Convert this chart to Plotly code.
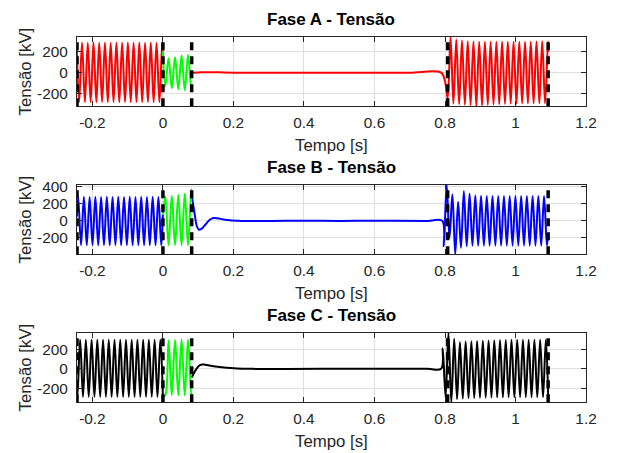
import plotly.graph_objects as go

# ---------------- data ----------------
# time [s], voltage [kV]
H_PRE = 0.008125   # half period, pre-fault / re-energized
H_FLT = 0.0092     # half period during fault (green)

# Pre-fault (t < 0): start point, first extreme time, extremes, end point
A_pre_start = (-0.244, 230)
A_pre_t0 = -0.2376
A_pre_ext = [-285, 291, -286, 290, -285, 291, -286, 290, -285, 291,
             -286, 290, -285, 291, -286, 290, -285, 291, -286, 290,
             -285, 291, -286, 290, -285, 291, -286, 290, -285, 291]
A_pre_end = (0.0, 205)

B_pre_start = (-0.244, 50)
B_pre_t0 = -0.2404
B_pre_ext = [281, -285, 282, -285, 281, -285, 282, -285, 281, -285,
             282, -285, 281, -285, 282, -285, 281, -285, 282, -285,
             281, -285, 282, -285, 281, -285, 282, -285, 281, -285]
B_pre_end = (0.0, 70)

C_pre_start = (-0.244, -280)
C_pre_t0 = -0.2430
C_pre_ext = [-287, 297, -287, 297, -287, 297, -287, 297, -287, 297,
             -287, 297, -287, 297, -287, 297, -287, 297, -287, 297,
             -287, 297, -287, 297, -287, 297, -287, 297, -287, 297]
C_pre_end = (0.0, -285)

# Fault period (green), 0 .. 0.0815 s
FLT_t0 = 0.0067
A_flt_ext = [-130, 140, -150, 150, -160, 165, -170, 170, -165]
A_flt_end = (0.0815, -140)
B_flt_ext = [285, -285, 295, -285, 305, -285, 320, -285, 370]
B_flt_end = (0.0815, 330)
C_flt_ext = [-270, 290, -270, 297, -270, 300, -270, 300, -270]
C_flt_end = (0.0815, -250)

# Post-fault transient (isolated line)
A_tr_t = [0.0815, 0.10, 0.13, 0.16, 0.20, 0.30, 0.45, 0.60, 0.70, 0.789, 0.7995]
A_tr_v = [0, 2, 5, 3, 0, -2, 0, -1, 0, 0, -77]
B_tr_t = [0.0815, 0.090, 0.096, 0.102, 0.110, 0.120, 0.132, 0.143, 0.155,
          0.170, 0.190, 0.22, 0.27, 0.35, 0.50, 0.65, 0.75, 0.792]
B_tr_v = [300, 80, -60, -104, -90, -45, 10, 33, 30,
          18, 6, 0, -2, 2, 0, 1, 0, 0]
C_tr_t = [0.0815, 0.090, 0.098, 0.105, 0.112, 0.120, 0.135, 0.155, 0.18,
          0.21, 0.25, 0.30, 0.35, 0.45, 0.60, 0.75, 0.789]
C_tr_v = [-89, -30, 15, 38, 45, 42, 32, 20, 10,
          4, 0, -3, -2, 0, 0, 0, 0]

# Re-energization: first extreme time, extremes, end point
A_re_t0 = 0.8075
A_re_ext = [-250, 348, -300, 320, -305, 310, -310, 305, -315, 302,
            -324, 300, -318, 300, -312, 298, -308, 298, -305, 298,
            -302, 300, -300, 300, -300, 300, -298, 300, -298, 300,
            -298, 302, -298, 305, -298, 305]
A_re_end = (1.0925, 200)
B_re_t0 = 0.7965
B_re_ext = [-297, 425, -200, 312, -390, 223, -316, 350, -297, 320,
            -290, 300, -290, 295, -292, 292, -290, 292, -290, 292,
            -290, 292, -290, 292, -290, 292, -290, 292, -290, 292,
            -290, 292, -290, 292, -290, 292, -290]
B_re_end = (1.0925, -150)
C_re_t0 = 0.7935
C_re_ext = [208, -287, 370, -341, 307, -310, 274, -305, 278, -300,
            282, -298, 285, -296, 288, -295, 290, -294, 292, -292,
            294, -292, 295, -290, 296, -290, 297, -290, 297, -290,
            297, -290, 297, -290, 297, -290, 297]
C_re_end = (1.0925, -270)

event_times = [-0.2437, 0.0, 0.0815, 0.8075, 1.0925]

phases = ["A", "B", "C"]
colors = {"A": "#ff0000", "B": "#0000ff", "C": "#000000"}
fault_color = "#00ff00"
y_ranges = {"A": [-324, 349], "B": [-390, 425], "C": [-341, 370]}
y_ticks = {"A": [-200, 0, 200], "B": [-200, 0, 200, 400], "C": [-200, 0, 200]}
x_ticks = [-0.2, 0, 0.2, 0.4, 0.6, 0.8, 1.0, 1.2]
x_ticktext = ["-0.2", "0", "0.2", "0.4", "0.6", "0.8", "1", "1.2"]

D = {
    "A": (A_pre_start, A_pre_t0, A_pre_ext, A_pre_end, A_flt_ext, A_flt_end,
          A_tr_t, A_tr_v, A_re_t0, A_re_ext, A_re_end),
    "B": (B_pre_start, B_pre_t0, B_pre_ext, B_pre_end, B_flt_ext, B_flt_end,
          B_tr_t, B_tr_v, B_re_t0, B_re_ext, B_re_end),
    "C": (C_pre_start, C_pre_t0, C_pre_ext, C_pre_end, C_flt_ext, C_flt_end,
          C_tr_t, C_tr_v, C_re_t0, C_re_ext, C_re_end),
}


def extremes(t0, half, ext):
    return [t0 + k * half for k in range(len(ext))], list(ext)


# ---------------- figure ----------------
W, Hh = 617, 453
x_dom = [78.3 / W, 596.7 / W]
tops = {"A": 31.0, "B": 181.0, "C": 331.0}
ax_h = 70.5

fig = go.Figure()
FONT = "Liberation Sans, Arial, Helvetica, sans-serif"
TXT = "#262626"

annotations = []
shapes = []
for i, p in enumerate(phases, start=1):
    (pre_s, pre_t0, pre_ext, pre_e, flt_ext, flt_e,
     tr_t, tr_v, re_t0, re_ext, re_e) = D[p]
    xa = "x" if i == 1 else f"x{i}"
    ya = "y" if i == 1 else f"y{i}"

    et, ev = extremes(pre_t0, H_PRE, pre_ext)
    rt, rv = extremes(re_t0, H_PRE, re_ext)
    tx = [pre_s[0]] + et + [pre_e[0], None] + tr_t + rt + [re_e[0]]
    vy = [pre_s[1]] + ev + [pre_e[1], None] + tr_v + rv + [re_e[1]]
    fig.add_trace(go.Scatter(x=tx, y=vy, mode="lines", xaxis=xa, yaxis=ya,
                             line=dict(color=colors[p], width=2, shape="spline"),
                             showlegend=False, hoverinfo="skip"))
    ft, fv = extremes(FLT_t0, H_FLT, flt_ext)
    fig.add_trace(go.Scatter(x=[pre_e[0]] + ft + [flt_e[0]],
                             y=[pre_e[1]] + fv + [flt_e[1]],
                             mode="lines", xaxis=xa, yaxis=ya,
                             line=dict(color=fault_color, width=2, shape="spline"),
                             showlegend=False, hoverinfo="skip"))

    top = tops[p]
    bot = top + ax_h
    y_dom = [1 - bot / Hh, 1 - top / Hh]
    axis_common = dict(showline=True, linecolor=TXT, linewidth=1, mirror="ticks",
                       ticks="inside", ticklen=5, tickcolor=TXT, tickwidth=1,
                       showgrid=True, gridcolor="#dfdfdf", gridwidth=1,
                       zeroline=False,
                       tickfont=dict(family=FONT, size=15.4, color=TXT))
    fig.layout[("xaxis" if i == 1 else f"xaxis{i}")] = dict(
        domain=x_dom, anchor=ya, range=[-0.244, 1.2],
        tickmode="array", tickvals=x_ticks, ticktext=x_ticktext,
        ticklabelstandoff=2, **axis_common)
    fig.layout[("yaxis" if i == 1 else f"yaxis{i}")] = dict(
        domain=y_dom, anchor=xa, range=y_ranges[p],
        tickmode="array", tickvals=y_ticks[p],
        ticktext=[str(v) for v in y_ticks[p]],
        ticklabelstandoff=5, **axis_common)

    annotations.append(dict(text=f"<b>Fase {p} - Tensão</b>", xref="paper", yref="paper",
                            x=337.5 / W, y=1 - (top - 17) / Hh, xanchor="center",
                            yanchor="middle", showarrow=False,
                            font=dict(family=FONT, size=17, color="#000000")))
    annotations.append(dict(text="Tempo [s]", xref="paper", yref="paper",
                            x=337.5 / W, y=1 - (bot + 40) / Hh, xanchor="center",
                            yanchor="middle", showarrow=False,
                            font=dict(family=FONT, size=16.8, color=TXT)))
    annotations.append(dict(text="Tensão [kV]", xref="paper", yref="paper",
                            x=25.5 / W, y=1 - (top + ax_h / 2) / Hh, xanchor="center",
                            yanchor="middle", showarrow=False, textangle=-90,
                            font=dict(family=FONT, size=16.8, color=TXT)))
    for t in event_times:
        shapes.append(dict(type="line", xref=xa, yref=f"{ya} domain",
                           x0=t, x1=t, y0=0, y1=1,
                           line=dict(color="#000000", width=3.5, dash="8px,6px")))

fig.update_layout(width=W, height=Hh, margin=dict(l=0, r=0, t=0, b=0),
                  paper_bgcolor="white", plot_bgcolor="white",
                  annotations=annotations, shapes=shapes, showlegend=False)

fig.write_html("out.html", config={"displayModeBar": False},
               post_script="document.body.style.margin='0';"
                           "document.body.style.overflow='hidden';")
